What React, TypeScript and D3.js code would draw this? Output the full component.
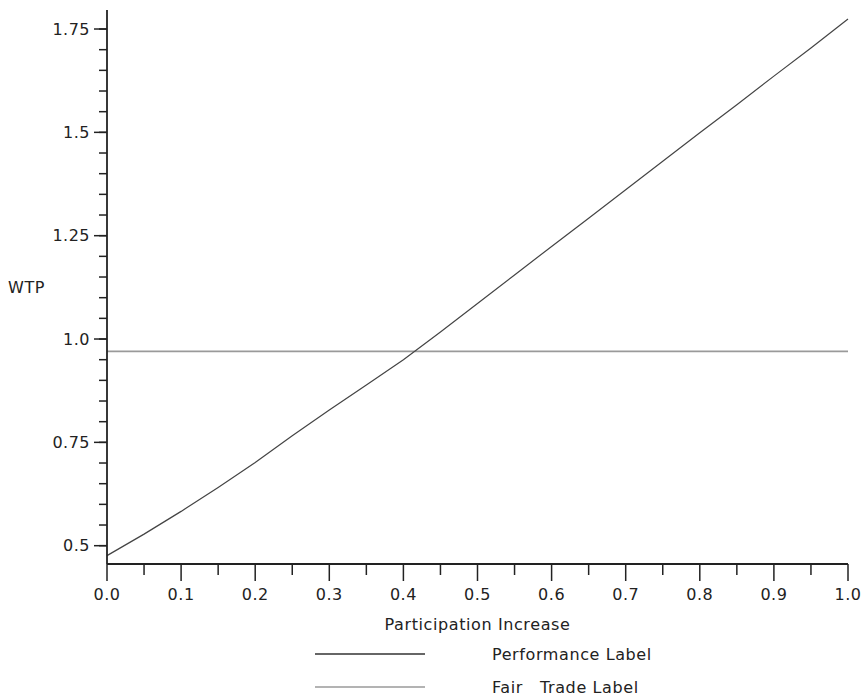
import React from "react";
import * as d3 from "d3";

const xValues = [0, 0.05, 0.1, 0.15, 0.2, 0.25, 0.3, 0.35, 0.4, 0.45, 0.5, 0.55, 0.6, 0.65, 0.7, 0.75, 0.8, 0.85, 0.9, 0.95, 1.0];
const performanceValues = [0.476, 0.528, 0.583, 0.641, 0.701, 0.766, 0.828, 0.889, 0.950, 1.017, 1.086, 1.155, 1.224, 1.292, 1.361, 1.430, 1.499, 1.567, 1.636, 1.704, 1.774];
const fairTradeValue = 0.970;
const xTickLabels = ["0.0", "0.1", "0.2", "0.3", "0.4", "0.5", "0.6", "0.7", "0.8", "0.9", "1.0"];
const yTickValues = [0.5, 0.75, 1.0, 1.25, 1.5, 1.75];
const yTickLabels = ["0.5", "0.75", "1.0", "1.25", "1.5", "1.75"];
const seriesNames = ["Performance Label", "Fair   Trade Label"];

const W = 867, H = 698;
const left = 107, right = 848, top = 10, bottom = 564;
const FONT = "'DejaVu Sans', Verdana, sans-serif";

export default function App() {
  const x = d3.scaleLinear().domain([0, 1]).range([left, right]);
  const y = d3.scaleLinear().domain([0.4557, 1.796]).range([bottom, top]);
  const line = d3.line<number>().x((_, i) => x(xValues[i])).y((d) => y(d));
  const xMinor = d3.range(0, 1.0001, 0.05);
  const yMinor = d3.range(0.5, 1.7501, 0.05);
  const textColor = "#222";
  return (
    <svg width={W} height={H} style={{ position: "fixed", left: 0, top: 0, background: "#fff" }} fontFamily={FONT}>
      <rect x={0} y={0} width={W} height={H} fill="#fff" />
      {/* fair trade */}
      <line x1={x(0)} x2={x(1)} y1={y(fairTradeValue)} y2={y(fairTradeValue)} stroke="#9a9a9a" strokeWidth={1.6} />
      {/* performance */}
      <path d={line(performanceValues) || ""} fill="none" stroke="#444" strokeWidth={1.2} />
      {/* axes */}
      <line x1={left} x2={left} y1={top} y2={bottom} stroke="#222" strokeWidth={1.8} />
      <line x1={left} x2={right} y1={bottom} y2={bottom} stroke="#222" strokeWidth={1.8} />
      {yMinor.map((v, i) => (
        <line key={"ym" + i} x1={left - 8} x2={left} y1={y(v)} y2={y(v)} stroke="#222" strokeWidth={1.5} />
      ))}
      {yTickValues.map((v, i) => (
        <g key={"yt" + i}>
          <line x1={left - 13} x2={left} y1={y(v)} y2={y(v)} stroke="#222" strokeWidth={1.5} />
          <text x={left - 17} y={y(v)} dy="0.35em" textAnchor="end" fontSize={16} fill={textColor} letterSpacing={0.5}>
            {yTickLabels[i]}
          </text>
        </g>
      ))}
      {xMinor.map((v, i) => (
        <line key={"xm" + i} x1={x(v)} x2={x(v)} y1={bottom} y2={bottom + (i % 2 === 0 ? 17 : 11)} stroke="#222" strokeWidth={1.5} />
      ))}
      {xTickLabels.map((t, i) => (
        <text key={"xt" + i} x={x(i / 10)} y={600} textAnchor="middle" fontSize={16} fill={textColor} letterSpacing={0.5}>
          {t}
        </text>
      ))}
      <text x={(left + right) / 2} y={630} textAnchor="middle" fontSize={16} fill={textColor} letterSpacing={0.6}>
        Participation Increase
      </text>
      <text x={8} y={293} fontSize={16} fill={textColor} letterSpacing={0.6}>WTP</text>
      {/* legend */}
      <line x1={315} x2={425} y1={654} y2={654} stroke="#333" strokeWidth={1.5} />
      <text x={492} y={660} fontSize={16} fill={textColor} letterSpacing={0.6}>{seriesNames[0]}</text>
      <line x1={315} x2={425} y1={687} y2={687} stroke="#9a9a9a" strokeWidth={1.5} />
      <text x={492} y={693} fontSize={16} fill={textColor} letterSpacing={0.6} style={{ whiteSpace: "pre" }}>{seriesNames[1]}</text>
    </svg>
  );
}
